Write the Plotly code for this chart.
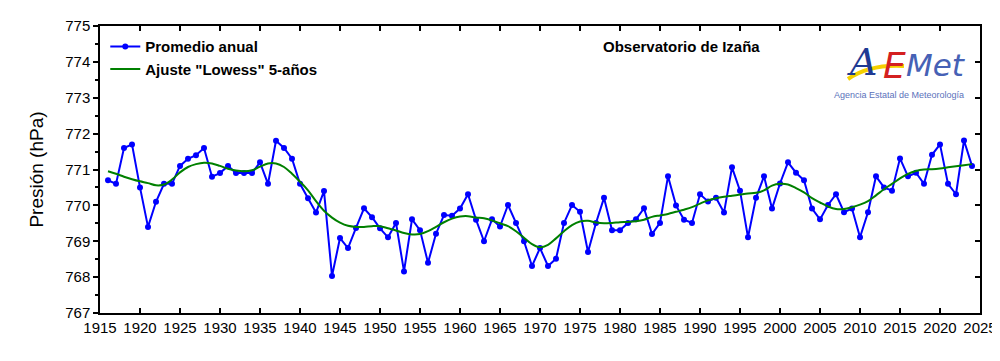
import plotly.graph_objects as go

years = list(range(1916, 2025))

annual = [
    770.70, 770.60, 771.60, 771.70, 770.50, 769.40, 770.10, 770.60, 770.60, 771.10,
    771.30, 771.40, 771.60, 770.80, 770.90, 771.10, 770.90, 770.90, 770.90, 771.20,
    770.60, 771.80, 771.60, 771.30,
    770.60, 770.20, 769.80, 770.40, 768.03, 769.09, 768.81, 769.37, 769.92, 769.67,
    769.36, 769.11, 769.51, 768.16, 769.61, 769.31, 768.40, 769.21, 769.73, 769.71,
    769.91, 770.31, 769.60,
    769.00, 769.61, 769.41, 770.01, 769.51, 769.00, 768.31, 768.81, 768.31, 768.51,
    769.51, 770.01, 769.82, 768.70, 769.51, 770.21, 769.31, 769.31, 769.51, 769.61,
    769.92, 769.20, 769.51, 770.81,
    770.00, 769.60, 769.51, 770.31, 770.11, 770.21, 769.80, 771.06, 770.41, 769.11,
    770.21, 770.81, 769.91, 770.61, 771.20, 770.91, 770.70, 769.91, 769.61, 770.01,
    770.31, 769.81, 769.91, 769.11,
    769.81, 770.81, 770.50, 770.41, 771.31, 770.81, 770.91, 770.60, 771.41, 771.70,
    770.60, 770.31, 771.81, 771.10,
]

lowess = [
    770.95, 770.88, 770.80, 770.73, 770.67, 770.62, 770.56, 770.58, 770.72, 770.92,
    771.07, 771.15, 771.19, 771.17, 771.10, 771.02, 770.97, 770.95, 770.98, 771.08,
    771.17, 771.17, 771.07, 770.88,
    770.66, 770.42, 770.12, 769.85, 769.66, 769.52, 769.43, 769.40, 769.40, 769.42,
    769.42, 769.36, 769.30, 769.23, 769.19, 769.20, 769.28, 769.40, 769.53, 769.63,
    769.69, 769.70, 769.66,
    769.64, 769.58, 769.50, 769.42, 769.28, 769.10, 768.92, 768.83, 768.90, 769.08,
    769.28, 769.45, 769.55, 769.57, 769.52, 769.50, 769.51, 769.53, 769.54, 769.56,
    769.60, 769.68, 769.72, 769.76,
    769.82, 769.88, 769.95, 770.05, 770.14, 770.20, 770.24, 770.27, 770.30, 770.33,
    770.35, 770.42, 770.55, 770.60, 770.58, 770.48, 770.36, 770.20, 770.08, 769.97,
    769.90, 769.90, 769.95, 770.02,
    770.12, 770.28, 770.45, 770.60, 770.75, 770.88, 770.96, 771.00, 771.01, 771.03,
    771.06, 771.09, 771.12, 771.15,
]

x_ticks = list(range(1915, 2026, 5))
y_ticks = list(range(767, 776))

FONT = "Liberation Sans, Arial, sans-serif"

fig = go.Figure()
fig.add_trace(go.Scatter(
    x=years, y=annual, mode="lines+markers", name="<b>Promedio anual</b>",
    line=dict(color="#0000FF", width=2),
    marker=dict(color="#0000FF", size=6),
))
fig.add_trace(go.Scatter(
    x=years, y=lowess, mode="lines", name='<b>Ajuste "Lowess" 5-años</b>',
    line=dict(color="#008000", width=2, shape="spline"),
))
# invisible trace for the mirrored (inside-tick) top/right axes
fig.add_trace(go.Scatter(x=[years[0]], y=[annual[0]], yaxis="y2", xaxis="x2",
                         mode="markers", marker=dict(opacity=0),
                         showlegend=False, hoverinfo="skip"))

# page has an 8px body margin, so the figure is 992x353 placed at (8,8)
fig.update_layout(
    width=992, height=353,
    margin=dict(l=92, r=20, t=18, b=48),
    paper_bgcolor="white", plot_bgcolor="white",
    font=dict(family=FONT, size=15, color="black"),
    showlegend=True,
    legend=dict(x=0.006, y=0.985, xanchor="left", yanchor="top",
                bgcolor="rgba(0,0,0,0)", font=dict(size=15, color="black", family=FONT),
                tracegroupgap=0, itemwidth=30),
    xaxis=dict(range=[1915, 2025], tickvals=x_ticks, ticks="inside", ticklen=5,
               tickwidth=1.5, tickcolor="black", showline=True, linecolor="black",
               linewidth=1.5, mirror=True, showgrid=False, zeroline=False,
               automargin=False, tickfont=dict(size=15)),
    xaxis2=dict(range=[1915, 2025], tickvals=x_ticks, ticks="inside", ticklen=5,
                tickwidth=1.5, tickcolor="black", overlaying="x", side="top",
                showticklabels=False, showgrid=False, zeroline=False, showline=False,
                automargin=False),
    yaxis=dict(range=[767, 775], tickvals=y_ticks, ticks="outside", ticklen=5,
               tickwidth=1.5, tickcolor="black", showline=True, linecolor="black",
               linewidth=1.5, mirror=True, showgrid=False, zeroline=False,
               automargin=False, tickfont=dict(size=15),
               minor=dict(dtick=0.5, ticks="outside", ticklen=3, tickwidth=1.5,
                          tickcolor="black", showgrid=False),
               title=dict(text="Presión (hPa)", font=dict(size=19), standoff=17)),
    yaxis2=dict(range=[767, 775], tickvals=y_ticks, ticks="inside", ticklen=5,
                tickwidth=1.5, tickcolor="black", overlaying="y", side="right",
                showticklabels=False, showgrid=False, zeroline=False, showline=False,
                automargin=False),
)

# window pixel -> paper coordinates (plot area spans x 100..980, y 26..313 in the window)
def px(xp):
    return (xp - 100) / 880

def py(yp):
    return (313 - yp) / 287

annotations = [
    dict(text="<b>Observatorio de Izaña</b>", x=px(601), y=py(47), xref="paper", yref="paper",
         xanchor="left", yanchor="middle", showarrow=False,
         font=dict(size=15, color="black", family=FONT)),
    dict(text="<i>A</i>", x=px(845), y=py(62), xref="paper", yref="paper",
         xanchor="left", yanchor="middle", showarrow=False,
         font=dict(size=38, color="#1f3a93", family="DejaVu Serif")),
    dict(text="<i>E</i>", x=px(881), y=py(65), xref="paper", yref="paper",
         xanchor="left", yanchor="middle", showarrow=False,
         font=dict(size=36, color="#d42020", family="DejaVu Sans")),
    dict(text="<i>Met</i>", x=px(904), y=py(65), xref="paper", yref="paper",
         xanchor="left", yanchor="middle", showarrow=False,
         font=dict(size=31, color="#4661b5", family="DejaVu Sans")),
    dict(text="Agencia Estatal de Meteorología", x=px(899), y=py(95), xref="paper", yref="paper",
         xanchor="center", yanchor="middle", showarrow=False,
         font=dict(size=9, color="#5b72bb", family=FONT)),
]
fig.update_layout(annotations=annotations)

fig.add_shape(type="path", xref="paper", yref="paper",
              path=f"M {px(848)},{py(79)} Q {px(870)},{py(64)} {px(904)},{py(66)}",
              line=dict(color="#f5d000", width=4))

fig.write_html("out.html")
